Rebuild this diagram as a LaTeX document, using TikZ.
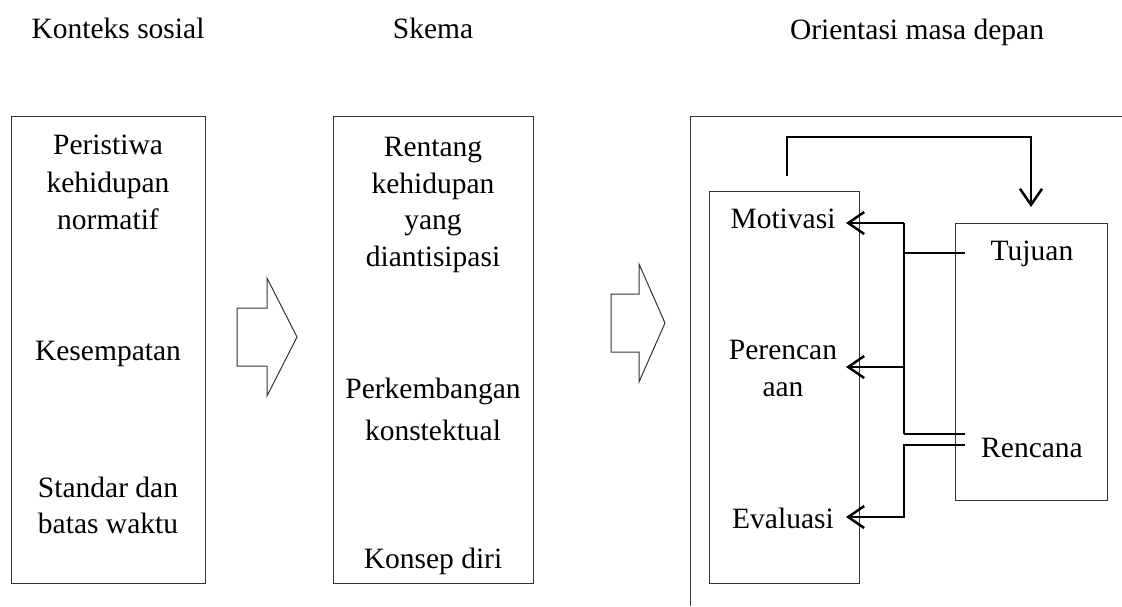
\documentclass[tikz,border=0pt]{standalone}
\usepackage{fontspec}
\setmainfont{Liberation Serif}
\usetikzlibrary{arrows.meta}
\begin{document}
\begin{tikzpicture}[x=1pt,y=-1pt,
  box/.style={draw=black!80,line width=1pt},
  txt/.style={align=center,font=\fontsize{29.5}{37}\selectfont,inner sep=0pt},
  conn/.style={line width=2.7pt,black},
  tip/.style={-{Straight Barb[length=16pt,width=22pt,line width=2.5pt]}},
  blockarrow/.style={draw=black!80,line width=1pt,line join=miter}]
\useasboundingbox (0,0) rectangle (1122,606);
% titles
\node[txt,anchor=base] (t1) at (118,38) {Konteks sosial};
\node[txt,anchor=base] (t2) at (433,38) {Skema};
\node[txt,anchor=base] (t3) at (917,39) {Orientasi masa depan};
% boxes
\draw[box] (11,116) rectangle (205,583);
\draw[box] (333,116) rectangle (533,583);
\draw[box] (1122,116) -- (690,116) -- (690,606);
\draw[box] (709,191) rectangle (859,583);
\draw[box] (955,223) rectangle (1107,500);
% left texts
\node[txt,anchor=north,font=\fontsize{29.5}{37.5}\selectfont] (a1) at (108,135) {Peristiwa\\kehidupan\\normatif};
\node[txt,anchor=base] (a2) at (108,360) {Kesempatan};
\node[txt,anchor=north,font=\fontsize{29.5}{36}\selectfont] (a3) at (108,477) {Standar dan\\batas waktu};
% middle texts
\node[txt,anchor=north,font=\fontsize{29.5}{36.7}\selectfont] (b1) at (433,137) {Rentang\\kehidupan\\yang\\diantisipasi};
\node[txt,anchor=north,font=\fontsize{29.5}{42}\selectfont] (b2) at (433,378) {Perkembangan\\konstektual};
\node[txt,anchor=base] (b3) at (433,568) {Konsep diri};
% block arrows
\draw[blockarrow] (237,308) -- (267,308) -- (267,278) -- (297,337) -- (267,396) -- (267,366) -- (237,366) -- cycle;
\draw[blockarrow] (611,294) -- (639,294) -- (639,264) -- (665,323) -- (639,382) -- (639,352) -- (611,352) -- cycle;
% right texts
\node[txt,anchor=base] (mot) at (783,228) {Motivasi};
\node[txt,anchor=north] (per) at (783,340) {Perencan\\aan};
\node[txt,anchor=base] (eva) at (783,528) {Evaluasi};
\node[txt,anchor=base] (tuj) at (1032,260) {Tujuan};
\node[txt,anchor=base] (ren) at (1032,457) {Rencana};
% junction coordinates
\coordinate (top1) at (787,176);
\coordinate (top2) at (787,137);
\coordinate (top3) at (1031,137);
\coordinate (top4) at (1031,207);
\coordinate (jm) at (904,223);
\coordinate (jp) at (904,367);
\coordinate (jr) at (904,434);
\coordinate (jt) at (904,253);
\coordinate (et) at (965,253);
\coordinate (er) at (965,434);
\coordinate (er2) at (965,445);
\coordinate (je1) at (904,445);
\coordinate (je2) at (904,517);
\coordinate (mtip) at (846,223);
\coordinate (ptip) at (846,367);
\coordinate (etip) at (846,517);
% connectors
\draw[conn,tip] (top1) -- (top2) -- (top3) -- (top4);
\draw[conn] (jm) -- (jr);
\draw[conn,tip] (jm) -- (mtip);
\draw[conn,tip] (jp) -- (ptip);
\draw[conn] (jt) -- (et);
\draw[conn] (jr) -- (er);
\draw[conn,tip] (er2) -- (je1) -- (je2) -- (etip);
\end{tikzpicture}
\end{document}
